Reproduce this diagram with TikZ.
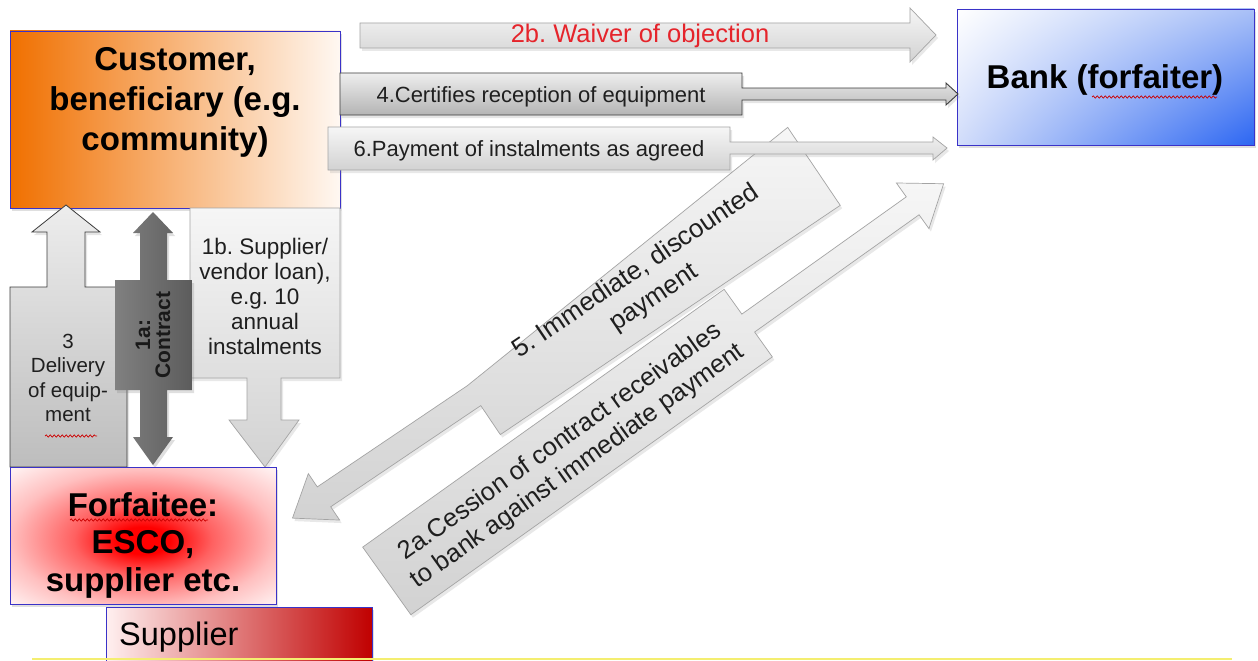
\documentclass[tikz,border=0pt]{standalone}
\usepackage{fontspec}
\setmainfont{Liberation Sans}
\usetikzlibrary{shadows,shadings,decorations.pathmorphing}
\definecolor{boxblue}{HTML}{3A32C8}
\definecolor{custorange}{HTML}{F07000}
\definecolor{custwhite}{HTML}{FFF8F2}
\definecolor{bankblue}{HTML}{2C66F2}
\definecolor{bankmidA}{HTML}{A9C0F7}
\definecolor{bankmidB}{HTML}{D2DDFA}
\definecolor{suppred}{HTML}{C00000}
\definecolor{supppale}{HTML}{FFF0F0}
\definecolor{forfred}{HTML}{FF0000}
\definecolor{forfpale}{HTML}{FFF2F2}
\definecolor{edgegray}{HTML}{A4A4A4}
\definecolor{lighttop}{HTML}{F6F6F6}
\definecolor{lightbot}{HTML}{D2D2D2}
\definecolor{darkedge}{HTML}{3C3C3C}
\definecolor{darktop}{HTML}{EEEEEE}
\definecolor{darkbot}{HTML}{B4B4B4}
\definecolor{grayboxtop}{HTML}{EDEDED}
\definecolor{grayboxbot}{HTML}{BDBDBD}
\definecolor{contractA}{HTML}{808080}
\definecolor{contractB}{HTML}{5C5C5C}
\definecolor{waiverred}{HTML}{E5242B}
\definecolor{yellowline}{HTML}{F4EE70}
\pgfdeclareradialshading{forfshade}{\pgfpoint{0bp}{-2bp}}{color(0bp)=(forfred); color(5bp)=(forfred); color(13bp)=(forfred!62!white); color(25bp)=(forfred!25!white); color(35bp)=(forfpale); color(50bp)=(white)}
\begin{document}
\frenchspacing
\begin{tikzpicture}[x=1pt,y=-1pt,
  box/.style={draw=boxblue, line width=0.9pt, inner sep=0pt,
    drop shadow={opacity=0.25, shadow xshift=2pt, shadow yshift=-3pt}},
  lightarrow/.style={draw=edgegray, line width=0.7pt, top color=lighttop, bottom color=lightbot,
    drop shadow={opacity=0.18, shadow xshift=2pt, shadow yshift=-3pt}},
  darkarrow/.style={draw=darkedge, line width=0.9pt, top color=darktop, bottom color=darkbot,
    drop shadow={opacity=0.2, shadow xshift=2pt, shadow yshift=-3pt}},
  grayarrow/.style={draw=darkedge, line width=0.8pt, top color=grayboxtop, bottom color=grayboxbot,
    drop shadow={opacity=0.2, shadow xshift=2pt, shadow yshift=-3pt}},
  contractarrow/.style={draw=none, left color=contractA, right color=contractB,
    drop shadow={opacity=0.25, shadow xshift=2pt, shadow yshift=-3pt}},
  title/.style={font=\fontsize{33}{40}\selectfont\bfseries, align=center, inner sep=0pt},
  lbl/.style={font=\fontsize{22}{26}\selectfont, align=center, inner sep=0pt, text=black!88},
  smalllbl/.style={font=\fontsize{22.5}{25}\selectfont, align=center, inner sep=0pt, text=black!88},
  squiggle/.style={draw=red!80!black, line width=0.7pt, decorate,
    decoration={snake, amplitude=1.1pt, segment length=4pt}}
]
\useasboundingbox (0,0) rectangle (1258,661);
\fill[white] (0,0) rectangle (1258,661);

% main boxes
\node[box, minimum width=330pt, minimum height=177pt, left color=custorange, right color=custwhite] (cust) at (175,119.5) {};
\node[box, minimum width=297pt, minimum height=136pt, upper left=white, upper right=bankmidA, lower left=bankmidB, lower right=bankblue] (bank) at (1105.5,77) {};

% 2b waiver
\path[lightarrow] (360,23) -- (910,23) -- (910,8) -- (936,35) -- (910,62) -- (910,48) -- (360,48) -- cycle;
\node[font=\fontsize{25.5}{28}\selectfont, text=waiverred, inner sep=0pt] (t2b) at (640,36) {2b. Waiver of objection};

% 4 certifies
\path[darkarrow] (340,73) -- (742,73) -- (742,88) -- (946,88) -- (946,83) -- (958,94) -- (946,105) -- (946,100) -- (742,100) -- (742,115) -- (340,115) -- cycle;
\node[lbl] (t4) at (541,97) {4.Certifies reception of equipment};

% 5 immediate discounted payment
\begin{scope}[shift={(644,281)}, rotate=34]
  \path[lightarrow] (205,-47) -- (205,47) -- (-205,47) -- (-205,12) -- (-386,12) -- (-386,28) -- (-424,0) -- (-386,-28) -- (-386,-12) -- (-205,-12) -- cycle;
  \node[font=\fontsize{26}{32}\selectfont, align=center, inner sep=0pt, text=black!88, rotate=34] (t5) at (-1,4) {5. Immediate, discounted\\payment};
\end{scope}

% 6 payment of instalments
\path[lightarrow] (328,127) -- (730,127) -- (730,142) -- (933,142) -- (933,137) -- (947,148) -- (933,160) -- (933,154) -- (730,154) -- (730,170) -- (328,170) -- cycle;
\node[lbl] (t6) at (529,151) {6.Payment of instalments as agreed};

% 2a cession
\begin{scope}[shift={(567.5,452)}, rotate=35.5]
  \path[lightarrow] (-222,-41.5) -- (222,-41.5) -- (222,-11) -- (424,-11) -- (424,-28) -- (462,0) -- (424,28) -- (424,11) -- (222,11) -- (222,41.5) -- (-222,41.5) -- cycle;
  \node[font=\fontsize{25.5}{30}\selectfont, align=center, inner sep=0pt, text=black!88, rotate=35.5] (t2a) at (0,3) {2a.Cession of contract receivables\\to bank against immediate payment};
\end{scope}

% 1b supplier loan
\path[lightarrow] (190,208) -- (340,208) -- (340,378) -- (281,378) -- (281,420) -- (299,420) -- (265,467) -- (229,420) -- (247,420) -- (247,378) -- (190,378) -- cycle;
\node[smalllbl] (t1b) at (265,296) {1b. Supplier/\\vendor loan),\\e.g. 10\\annual\\instalments};

% 3 delivery
\path[grayarrow] (10,467) -- (10,287) -- (47,287) -- (47,232) -- (32,232) -- (66,205) -- (100,232) -- (85,232) -- (85,287) -- (127,287) -- (127,467) -- cycle;
\node[font=\fontsize{20.5}{24.5}\selectfont, align=center, inner sep=0pt, text=black!88] (t3) at (68,378) {3\\Delivery\\of equip-\\ment};
\draw[squiggle] (45,436) -- (97,436);

% 1a contract
\path[contractarrow] (153,212) -- (173,233) -- (167,233) -- (167,280) -- (192,280) -- (192,390) -- (167,390) -- (167,437) -- (173,437) -- (153,465) -- (133,437) -- (140,437) -- (140,390) -- (115,390) -- (115,280) -- (140,280) -- (140,233) -- (133,233) -- cycle;
\node[font=\fontsize{21}{20}\selectfont\bfseries, align=center, inner sep=0pt, text=black!90, rotate=90] (t1a) at (153,335) {1a:\\Contract};

% forfaitee and supplier
\node[box, shade, shading=forfshade, minimum width=266pt, minimum height=137pt] (forf) at (143,535.5) {};
\node[box, minimum width=266pt, minimum height=62pt, left color=supppale, right color=suppred] (supp) at (239,638) {};

% titles
\node[title] (custlbl) at (175,102) {Customer,\\beneficiary (e.g.\\community)};
\node[title] (banklbl) at (1105,80) {Bank (forfaiter)};
\draw[squiggle] (1092,97) -- (1217,97);
\node[title, font=\fontsize{33}{37.5}\selectfont\bfseries] (forflbl) at (143,545) {Forfaitee:\\ESCO,\\supplier etc.};
\draw[squiggle] (70,520) -- (208,520);
\node[font=\fontsize{32.5}{36}\selectfont, inner sep=0pt, anchor=west] (supplbl) at (119,637) {Supplier};

% bottom yellow line
\draw[yellowline, line width=2pt] (32,659) -- (1232,659);
\end{tikzpicture}
\end{document}
